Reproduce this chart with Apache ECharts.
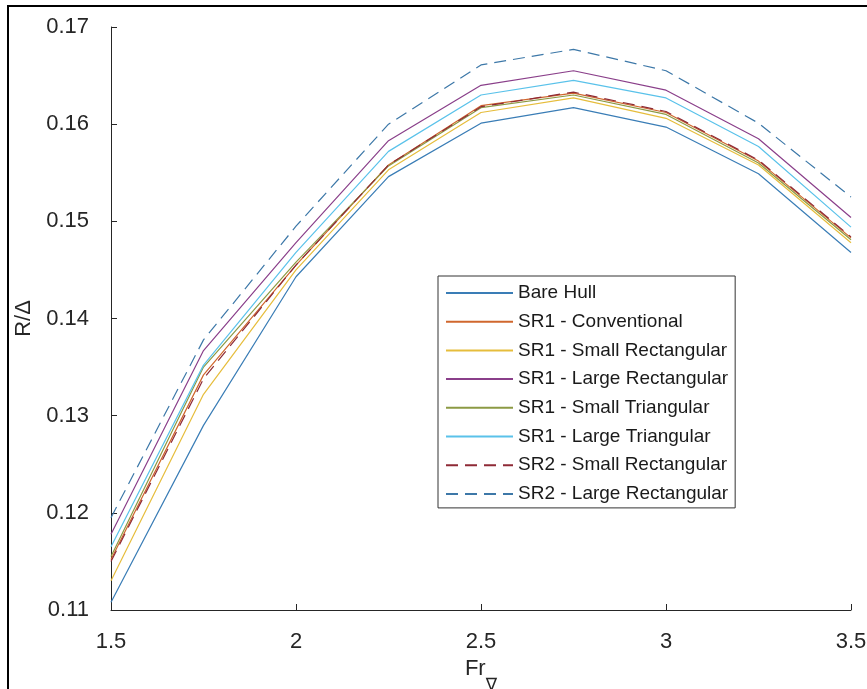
<!DOCTYPE html>
<html><head><meta charset="utf-8">
<script src="https://cdn.jsdelivr.net/npm/echarts@6/dist/echarts.min.js"></script>
<style>html,body{margin:0;padding:0;background:#fff}#c{width:867px;height:689px}</style>
</head><body><div id="c"></div>
<script>
// Froude number (volumetric) values along x
const froude = [1.5, 1.75, 2, 2.25, 2.5, 2.75, 3, 3.25, 3.5];
const xTicks = ['1.5', '2', '2.5', '3', '3.5'];
const yTicks = ['0.11', '0.12', '0.13', '0.14', '0.15', '0.16', '0.17'];

const seriesNames = [
  'Bare Hull',
  'SR1 - Conventional',
  'SR1 - Small Rectangular',
  'SR1 - Large Rectangular',
  'SR1 - Small Triangular',
  'SR1 - Large Triangular',
  'SR2 - Small Rectangular',
  'SR2 - Large Rectangular'
];

const bareHull      = [0.1108, 0.1290, 0.1443, 0.1546, 0.1601, 0.1617, 0.1597, 0.1549, 0.1468];
const sr1Conv       = [0.1152, 0.1342, 0.1455, 0.1558, 0.1619, 0.1632, 0.1612, 0.1562, 0.1483];
const sr1SmallRect  = [0.1130, 0.1322, 0.1450, 0.1553, 0.1612, 0.1627, 0.1606, 0.1558, 0.1478];
const sr1LargeRect  = [0.1178, 0.1367, 0.1478, 0.1583, 0.1640, 0.1655, 0.1635, 0.1585, 0.1504];
const sr1SmallTri   = [0.1155, 0.1350, 0.1458, 0.1557, 0.1617, 0.1630, 0.1610, 0.1560, 0.1481];
const sr1LargeTri   = [0.1165, 0.1352, 0.1468, 0.1572, 0.1630, 0.1645, 0.1627, 0.1577, 0.1494];
const sr2SmallRect  = [0.1150, 0.1338, 0.1455, 0.1558, 0.1618, 0.1633, 0.1613, 0.1563, 0.1484];
const sr2LargeRect  = [0.1195, 0.1378, 0.1495, 0.1600, 0.1661, 0.1677, 0.1655, 0.1601, 0.1525];

const allValues = [bareHull, sr1Conv, sr1SmallRect, sr1LargeRect, sr1SmallTri, sr1LargeTri, sr2SmallRect, sr2LargeRect];
const colors = ['#3a7db6', '#d0672e', '#e6bd3c', '#8a3f8a', '#8c9a44', '#5ac2ea', '#8e2a36', '#3d78a8'];
const dashed = [false, false, false, false, false, false, true, true];

const chart = echarts.init(document.getElementById('c'), null, {renderer: 'canvas'});
const txt = '#262626';
const font = '"Liberation Sans", Arial, sans-serif';

const series = seriesNames.map((name, i) => ({
  name: name,
  type: 'line',
  symbol: 'none',
  showSymbol: false,
  data: froude.map((f, j) => [f, allValues[i][j]]),
  lineStyle: {color: colors[i], width: 1.2, type: dashed[i] ? [12, 7] : 'solid'},
  itemStyle: {color: colors[i]},
  emphasis: {disabled: true},
  animation: false
}));

chart.setOption({
  animation: false,
  backgroundColor: '#fff',
  textStyle: {fontFamily: font},
  grid: {left: 111, right: 16, top: 27, bottom: 79, containLabel: false, outerBoundsMode: 'none'},
  xAxis: {
    type: 'value', min: 1.5, max: 3.5, interval: 0.5,
    axisLine: {show: true, lineStyle: {color: txt, width: 1}},
    axisTick: {show: true, inside: true, length: 6, lineStyle: {color: txt}},
    splitLine: {show: false},
    axisLabel: {
      color: txt, fontSize: 22, fontFamily: font, margin: 21,
      formatter: v => xTicks.find(t => Math.abs(parseFloat(t) - v) < 1e-9) || ''
    },
    name: '{a|Fr}{b|∇}',
    nameLocation: 'middle', nameGap: 35,
    nameTextStyle: {
      rich: {
        a: {fontSize: 22, fontFamily: font, color: txt, lineHeight: 36, verticalAlign: 'top'},
        b: {fontSize: 17, fontFamily: '"DejaVu Sans", sans-serif', color: txt, lineHeight: 36, verticalAlign: 'bottom'}
      }
    }
  },
  yAxis: {
    type: 'value', min: 0.11, max: 0.17, interval: 0.01,
    axisLine: {show: true, lineStyle: {color: txt, width: 1}},
    axisTick: {show: true, inside: true, length: 6, lineStyle: {color: txt}},
    splitLine: {show: false},
    axisLabel: {
      color: txt, fontSize: 22, fontFamily: font, margin: 22,
      formatter: v => yTicks.find(t => Math.abs(parseFloat(t) - v) < 1e-9) || ''
    },
    name: 'R/Δ', nameLocation: 'middle', nameGap: 70, nameRotate: 90,
    nameTextStyle: {color: txt, fontSize: 22, fontFamily: font}
  },
  legend: {
    data: seriesNames,
    orient: 'vertical',
    left: 438, top: 276,
    padding: [7, 7, 4, 7],
    backgroundColor: '#fff',
    borderColor: '#333', borderWidth: 1, borderRadius: 0,
    itemWidth: 67, itemHeight: 20, itemGap: 8.7,
    itemStyle: {opacity: 0, borderWidth: 0},
    textStyle: {color: '#1a1a1a', fontSize: 19, fontFamily: font, lineHeight: 20},
    selectedMode: false
  },
  graphic: [{
    type: 'polyline', silent: true,
    shape: {points: [[8, 689], [8, 6], [867, 6]]},
    style: {stroke: '#000', lineWidth: 2, fill: null}
  }],
  series: series
});
</script>
</body></html>
